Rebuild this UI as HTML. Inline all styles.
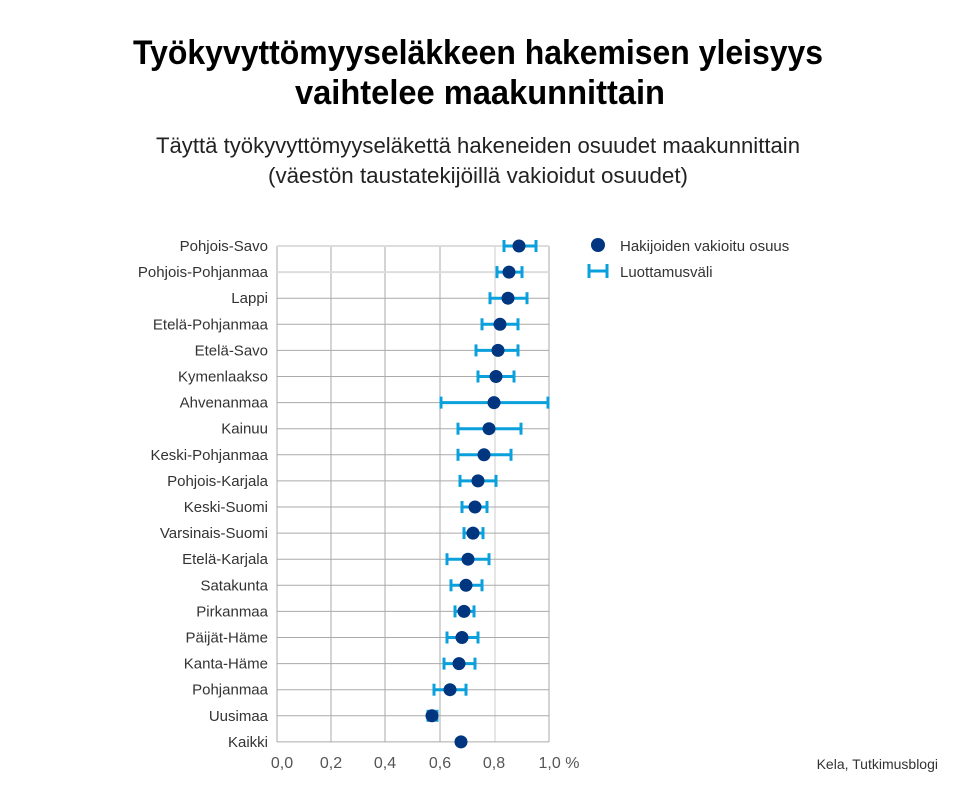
<!DOCTYPE html>
<html><head><meta charset="utf-8"><style>
body{margin:0;background:#fff;width:960px;height:794px;overflow:hidden;font-family:"Liberation Sans","DejaVu Sans",sans-serif;}
</style></head><body>
<svg width="960" height="794" xmlns="http://www.w3.org/2000/svg" font-family="Liberation Sans, DejaVu Sans, sans-serif">
<text x="478" y="64" text-anchor="middle" font-size="34" font-weight="bold" fill="#000" textLength="690" lengthAdjust="spacingAndGlyphs">Työkyvyttömyyseläkkeen hakemisen yleisyys</text>
<text x="480" y="104" text-anchor="middle" font-size="34" font-weight="bold" fill="#000" textLength="370" lengthAdjust="spacingAndGlyphs">vaihtelee maakunnittain</text>
<text x="478" y="153" text-anchor="middle" font-size="22" fill="#222" textLength="644" lengthAdjust="spacingAndGlyphs">Täyttä työkyvyttömyyseläkettä hakeneiden osuudet maakunnittain</text>
<text x="478" y="183" text-anchor="middle" font-size="22" fill="#222" textLength="420" lengthAdjust="spacingAndGlyphs">(väestön taustatekijöillä vakioidut osuudet)</text>
<g stroke="#aaa" stroke-width="1">
<line x1="331" y1="246" x2="331" y2="742"/><line x1="385" y1="246" x2="385" y2="742"/><line x1="440" y1="246" x2="440" y2="742"/>
<line x1="549" y1="246" x2="549" y2="742"/><line x1="277" y1="246" x2="277" y2="742"/>
</g>
<line x1="495" y1="246" x2="495" y2="742" stroke="#ddd" stroke-width="1.5"/>
<g id="h" stroke="#aaa" stroke-width="1"></g>
<g id="d"></g>
<g font-size="16" fill="#555" text-anchor="middle">
<text x="282" y="768">0,0</text><text x="331" y="768">0,2</text><text x="385" y="768">0,4</text><text x="440" y="768">0,6</text><text x="494" y="768">0,8</text><text x="559" y="768">1,0 %</text>
</g>
<g id="l" font-size="15" fill="#333" text-anchor="end"></g>
<circle cx="598" cy="245" r="7" fill="#003580"/>
<text x="620" y="251" font-size="15" fill="#333">Hakijoiden vakioitu osuus</text>
<g stroke="#0aa0dc" stroke-width="3"><line x1="589" y1="271" x2="607" y2="271"/><line x1="589" y1="264" x2="589" y2="278"/><line x1="607" y1="264" x2="607" y2="278"/></g>
<text x="620" y="277" font-size="15" fill="#333">Luottamusväli</text>
<text x="938" y="769" font-size="14" fill="#333" text-anchor="end">Kela, Tutkimusblogi</text>
</svg>
<script>
var D=[["Pohjois-Savo",519,504,536],["Pohjois-Pohjanmaa",509,497,522],["Lappi",508,490,527],["Etelä-Pohjanmaa",500,482,518],["Etelä-Savo",498,476,518],["Kymenlaakso",496,478,514],["Ahvenanmaa",494,441,548],["Kainuu",489,458,521],["Keski-Pohjanmaa",484,458,511],["Pohjois-Karjala",478,460,496],["Keski-Suomi",475,462,487],["Varsinais-Suomi",473,464,483],["Etelä-Karjala",468,447,489],["Satakunta",466,451,482],["Pirkanmaa",464,455,474],["Päijät-Häme",462,447,478],["Kanta-Häme",459,444,475],["Pohjanmaa",450,434,466],["Uusimaa",432,428,437],["Kaikki",461,0,0]];
var ns="http://www.w3.org/2000/svg",h=document.getElementById("h"),d=document.getElementById("d"),l=document.getElementById("l");
function el(p,t,a,txt){var e=document.createElementNS(ns,t);for(var k in a)e.setAttribute(k,a[k]);if(txt)e.textContent=txt;p.appendChild(e);return e;}
D.forEach(function(r,i){var y=246+i*26.1;
el(h,"line",{x1:277,x2:549,y1:y,y2:y,stroke:i<2?"#ddd":"#aaa","stroke-width":i<2?2:1});
el(l,"text",{x:268,y:y+5},r[0]);
if(r[2]){var g=el(d,"g",{stroke:"#0aa0dc","stroke-width":3});
el(g,"line",{x1:r[2],x2:r[3],y1:y,y2:y});el(g,"line",{x1:r[2],x2:r[2],y1:y-6,y2:y+6});el(g,"line",{x1:r[3],x2:r[3],y1:y-6,y2:y+6});}
el(d,"circle",{cx:r[1],cy:y,r:6.5,fill:"#003580"});});
</script>
</body></html>
